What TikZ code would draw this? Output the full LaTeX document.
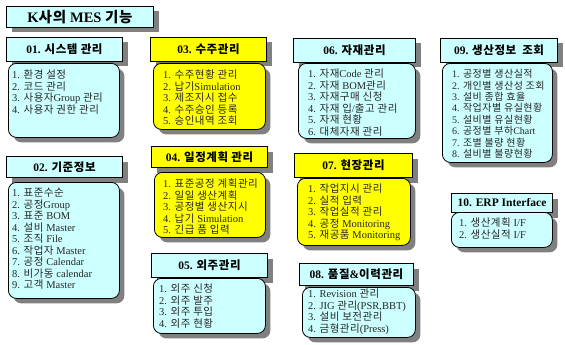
\documentclass[tikz,border=0pt]{standalone}
\usepackage{fontspec}
\setmainfont{Liberation Serif}
\newfontfamily\krfam[LetterSpace=5]{Noto Sans CJK KR}
\usetikzlibrary{shadows}
\definecolor{cyanbg}{HTML}{CCFFFF}
\definecolor{yellowbg}{HTML}{FFFF00}
\newcount\hgcnt
\hgcnt="AC00
\loop
  \XeTeXcharclass\hgcnt=7
  \advance\hgcnt by 1
\ifnum\hgcnt<"D7A4 \repeat
\XeTeXinterchartoks 0 7 = {\krfam}
\XeTeXinterchartoks 4095 7 = {\krfam}
\XeTeXinterchartoks 7 0 = {\rmfamily}
\XeTeXinterchartoks 4095 0 = {\rmfamily}
\XeTeXinterchartokenstate=1
\begin{document}
\begin{tikzpicture}[x=1pt,y=-1pt,
  shad/.style={drop shadow={shadow xshift=5pt,shadow yshift=-5pt,fill=black!50,opacity=1}},
  hdr/.style={draw=black,line width=1pt,shad,inner sep=0pt,anchor=north west,
    font=\fontsize{11.5}{13}\selectfont\bfseries},
  lst/.style={draw=black,line width=0.8pt,rounded corners=8pt,shad,inner sep=0pt,anchor=north west},
  items/.style={anchor=north west,inner sep=0pt,align=left,text=black!85,
    font=\fontsize{10.5}{11.5}\selectfont},
  cy/.style={fill=cyanbg}, ye/.style={fill=yellowbg}]
\useasboundingbox (0,0) rectangle (565,345);
\fill[white] (0,0) rectangle (565,345);
% title
\node[hdr,cy,minimum width=147pt,minimum height=21pt,font=\fontsize{14.5}{16}\selectfont\bfseries] (title) at (6,6) {K사의 MES 기능};
% 01
\node[hdr,cy,minimum width=116pt,minimum height=24pt] (h1) at (6,37) {01. 시스템 관리};
\node[lst,cy,minimum width=111pt,minimum height=74pt] (b1) at (8,63) {};
\node[items] (t1) at (12,70) {\rule{0pt}{8.5pt}1. 환경 설정\\2. 코드 관리\\3. 사용자Group 관리\\4. 사용자 권한 관리};
% 02
\node[hdr,cy,minimum width=116pt,minimum height=21pt] (h2) at (6,156) {02. 기준정보};
\node[lst,cy,minimum width=111pt,minimum height=116pt] (b2) at (8,182) {};
\node[items] (t2) at (12,188) {\rule{0pt}{8.5pt}1. 표준수순\\2. 공정Group\\3. 표준 BOM\\4. 설비 Master\\5. 조직 File\\6. 작업자 Master\\7. 공정 Calendar\\8. 비가동 calendar\\9. 고객 Master};
% 03
\node[hdr,ye,minimum width=116pt,minimum height=24pt] (h3) at (150,37) {03. 수주관리};
\node[lst,ye,minimum width=112pt,minimum height=66pt] (b3) at (153,63) {};
\node[items] (t3) at (163,70) {\rule{0pt}{8.5pt}1. 수주현황 관리\\2. 납기Simulation\\3. 제조지시 접수\\4. 수주승인 등록\\5. 승인내역 조회};
% 04
\node[hdr,ye,minimum width=116pt,minimum height=21pt] (h4) at (151,146) {04. 일정계획 관리};
\node[lst,ye,minimum width=111pt,minimum height=65pt] (b4) at (154,172) {};
\node[items] (t4) at (163,179) {\rule{0pt}{8.5pt}1. 표준공정 계획관리\\2. 일일 생산계획\\3. 공정별 생산지시\\4. 납기 Simulation\\5. 긴급 품 입력};
% 05
\node[hdr,cy,minimum width=116pt,minimum height=24pt] (h5) at (151,253) {05. 외주관리};
\node[lst,cy,minimum width=112pt,minimum height=55pt] (b5) at (153,278) {};
\node[items] (t5) at (159,284) {\rule{0pt}{8.5pt}1. 외주 신청\\2. 외주 발주\\3. 외주 투입\\4. 외주 현황};
% 06
\node[hdr,cy,minimum width=122pt,minimum height=24pt] (h6) at (293,38) {06. 자재관리};
\node[lst,cy,minimum width=117pt,minimum height=75pt] (b6) at (298,63) {};
\node[items] (t6) at (308,69) {\rule{0pt}{8.5pt}1. 자재Code 관리\\2. 자재 BOM관리\\3. 자재구매 신청\\4. 자재 입/출고 관리\\5. 자재 현황\\6. 대체자재 관리};
% 07
\node[hdr,ye,minimum width=118pt,minimum height=24pt] (h7) at (294,153) {07. 현장관리};
\node[lst,ye,minimum width=113pt,minimum height=67pt] (b7) at (297,178) {};
\node[items] (t7) at (308,184) {\rule{0pt}{8.5pt}1. 작업지시 관리\\2. 실적 입력\\3. 작업실적 관리\\4. 공정 Monitoring\\5. 재공품 Monitoring};
% 08
\node[hdr,cy,minimum width=114pt,minimum height=22pt] (h8) at (299,263) {08. 품질\&이력관리};
\node[lst,cy,minimum width=113pt,minimum height=50pt] (b8) at (302,287) {};
\node[items] (t8) at (308,289) {\rule{0pt}{8.5pt}1. Revision 관리\\2. JIG 관리(PSR,BBT)\\3. 설비 보전관리\\4. 금형관리(Press)};
% 09
\node[hdr,cy,minimum width=117pt,minimum height=24pt] (h9) at (440,38) {09. 생산정보\hspace{6pt}조회};
\node[lst,cy,minimum width=110pt,minimum height=99pt] (b9) at (442,63) {};
\node[items,font=\fontsize{10}{11.4}\selectfont] (t9) at (452,69) {\rule{0pt}{8.5pt}1. 공정별 생산실적\\2. 개인별 생산성 조회\\3. 설비 종합 효율\\4. 작업자별 유실현황\\5. 설비별 유실현황\\6. 공정별 부하Chart\\7. 조별 불량 현황\\8. 설비별 불량현황};
% 10
\node[hdr,cy,minimum width=101pt,minimum height=19pt] (h10) at (451,193) {10. ERP Interface};
\node[lst,cy,minimum width=101pt,minimum height=35pt] (b10) at (451,212) {};
\node[items] (t10) at (459,218) {\rule{0pt}{8.5pt}1. 생산계획 I/F\\2. 생산실적 I/F};
\end{tikzpicture}
\end{document}
